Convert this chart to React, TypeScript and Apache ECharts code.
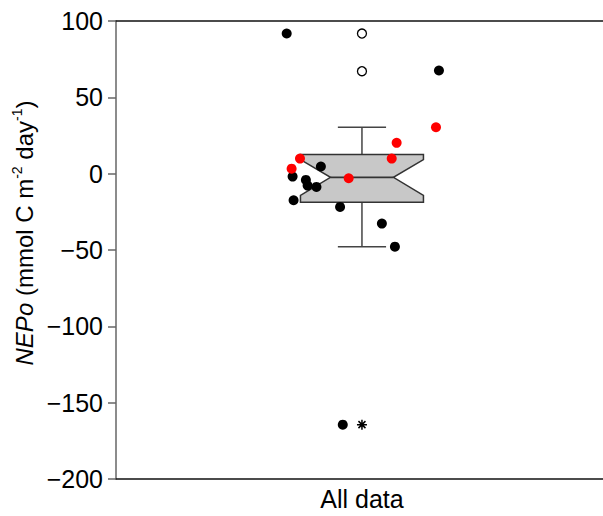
import React, { useEffect, useRef } from "react";
import * as echarts from "echarts";

const categories = ["All data"];
const yTicks = [-200, -150, -100, -50, 0, 50, 100];

// notched box statistics: whisker low, Q1, notch low, median, notch high, Q3, whisker high
const boxStats = [-47.8, -18.7, -14.2, -2.4, 9.2, 12.5, 30.4];
const outlierValues = [91.8, 67.1];
const extremeValues = [-164.4];

// jittered raw observations (x = jitter offset around category centre)
const blackX = [-0.306, 0.313, -0.167, -0.282, -0.228, -0.221, -0.185, -0.278, -0.089, 0.081, 0.134, -0.078];
const blackY = [91.8, 67.6, 4.7, -1.9, -4.1, -7.8, -8.7, -17.4, -21.8, -32.7, -47.8, -164.4];
const redX = [0.301, 0.141, 0.121, -0.252, -0.286, -0.054];
const redY = [30.4, 20.2, 9.9, 9.9, 3.3, -3.0];

const FONT = "'Liberation Sans', Arial, Helvetica, sans-serif";
const fmt = (v: number) => (v < 0 ? "\u2212" + Math.abs(v) : String(v));

export default function App() {
  const ref = useRef<HTMLDivElement>(null);
  useEffect(() => {
    if (!ref.current) return;
    const chart = echarts.init(ref.current, null, { renderer: "svg" });
    const W = 0.25, N = 0.128, C = 0.098;
    chart.setOption({
      animation: false,
      backgroundColor: "#fff",
      grid: { left: 116, right: 0, top: 21, bottom: 37 },
      xAxis: [
        {
          type: "value",
          min: -1,
          max: 0.98,
          interval: 1,
          position: "bottom",
          splitLine: { show: false },
          axisTick: { show: false },
          axisLine: { show: true, onZero: false, lineStyle: { color: "#111", width: 1.6 } },
          axisLabel: {
            showMaxLabel: false,
            showMinLabel: false,
            margin: 7,
            color: "#000",
            fontSize: 25,
            fontFamily: FONT,
            formatter: (v: number) => (Math.abs(v) < 1e-9 ? categories[0] : ""),
          },
        },
        {
          type: "value",
          min: -1,
          max: 0.98,
          position: "top",
          splitLine: { show: false },
          axisTick: { show: false },
          axisLabel: { show: false },
          axisLine: { show: true, onZero: false, lineStyle: { color: "#111", width: 1.6 } },
        },
      ],
      yAxis: {
        type: "value",
        min: yTicks[0],
        max: yTicks[yTicks.length - 1],
        interval: 50,
        splitLine: { show: false },
        axisLine: { show: true, onZero: false, lineStyle: { color: "#666", width: 1.5 } },
        axisTick: { show: true, length: 8, lineStyle: { color: "#666", width: 1.5 } },
        axisLabel: { margin: 13, color: "#000", fontSize: 25, fontFamily: FONT, formatter: fmt },
      },
      graphic: [
        {
          type: "text",
          x: 24,
          y: 233,
          rotation: Math.PI / 2,
          style: {
            text: "{i|NEPo}{n| (mmol C m}{s|-2}{n| day}{s|-1}{n|)}",
            textAlign: "center",
            textVerticalAlign: "middle",
            fill: "#000",
            rich: {
              i: { fontSize: 24, fontStyle: "italic", fontFamily: FONT, lineHeight: 28, fill: "#000" },
              n: { fontSize: 24, fontFamily: FONT, lineHeight: 28, fill: "#000" },
              s: { fontSize: 14, fontFamily: FONT, lineHeight: 28, verticalAlign: "top", fill: "#000" },
            },
          },
        },
      ],
      series: [
        {
          type: "custom",
          z: 1,
          data: [[0, ...boxStats]],
          renderItem: (params: any, api: any) => {
            const x = api.value(0);
            const [wl, q1, nl, med, nh, q3, wh] = [1, 2, 3, 4, 5, 6, 7].map((i) => api.value(i));
            const p = (dx: number, y: number) => api.coord([x + dx, y]);
            const poly = [
              p(-W, q3), p(W, q3), p(W, nh), p(N, med), p(W, nl), p(W, q1),
              p(-W, q1), p(-W, nl), p(-N, med), p(-W, nh),
            ];
            const lineStyle = { stroke: "#444", lineWidth: 1.5 };
            const seg = (a: number[], b: number[]) => ({
              type: "line",
              shape: { x1: a[0], y1: a[1], x2: b[0], y2: b[1] },
              style: lineStyle,
            });
            return {
              type: "group",
              children: [
                seg(p(0, wh), p(0, q3)),
                seg(p(0, q1), p(0, wl)),
                seg(p(-C, wh), p(C, wh)),
                seg(p(-C, wl), p(C, wl)),
                { type: "polygon", shape: { points: poly }, style: { fill: "#c8c8c8", stroke: "#333", lineWidth: 1.5 } },
                { type: "line", shape: { x1: p(-N, med)[0], y1: p(-N, med)[1], x2: p(N, med)[0], y2: p(N, med)[1] }, style: { stroke: "#333", lineWidth: 1.8 } },
              ],
            };
          },
        },
        {
          type: "scatter",
          z: 3,
          symbol: "circle",
          symbolSize: 9,
          itemStyle: { color: "#fff", borderColor: "#000", borderWidth: 1.3, opacity: 1 },
          data: outlierValues.map((v) => [0, v]),
        },
        {
          type: "scatter",
          z: 3,
          symbol: "path://M0,-5L0,5M-5,0L5,0M-3.5,-3.5L3.5,3.5M-3.5,3.5L3.5,-3.5",
          symbolSize: 10,
          itemStyle: { color: "none", borderColor: "#000", borderWidth: 1.5, opacity: 1 },
          data: extremeValues.map((v) => [0, v]),
        },
        {
          type: "scatter",
          z: 4,
          symbol: "circle",
          symbolSize: 10,
          itemStyle: { color: "#000", opacity: 1 },
          data: blackX.map((x, i) => [x, blackY[i]]),
        },
        {
          type: "scatter",
          z: 5,
          symbol: "circle",
          symbolSize: 10,
          itemStyle: { color: "#ff0000", opacity: 1 },
          data: redX.map((x, i) => [x, redY[i]]),
        },
      ],
    });
    return () => chart.dispose();
  }, []);
  return <div ref={ref} style={{ position: "fixed", left: 0, top: 0, width: 603, height: 516 }} />;
}
